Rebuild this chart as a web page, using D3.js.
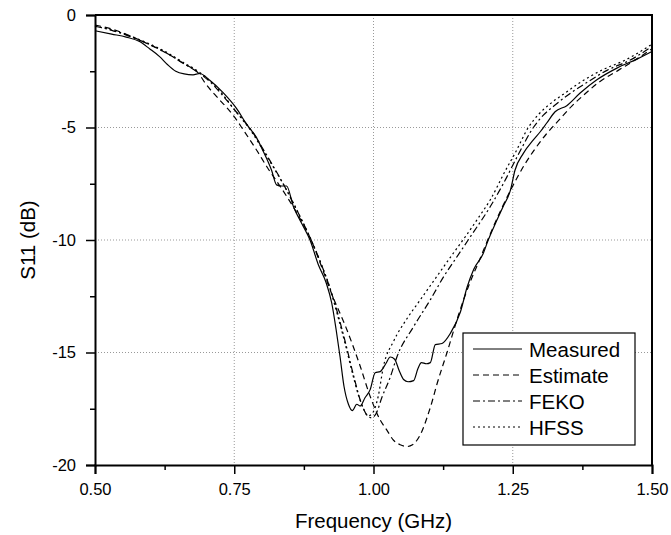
<!DOCTYPE html>
<html>
<head>
<meta charset="utf-8">
<script src="https://d3js.org/d3.v7.min.js"></script>
<style>
  body { margin: 0; background: #fff; }
  text { font-family: "Liberation Sans", Arial, sans-serif; fill: #000; }
</style>
</head>
<body>
<div id="chart"></div>
<script>
// data: [frequency GHz, S11 dB]
var measured = [[0.50,-0.70],[0.53,-0.85],[0.556,-0.98],[0.58,-1.18],[0.598,-1.5],[0.616,-1.85],[0.63,-2.2],[0.645,-2.5],[0.66,-2.62],[0.676,-2.66],[0.688,-2.6],[0.706,-2.9],[0.73,-3.45],[0.754,-4.15],[0.772,-4.85],[0.79,-5.45],[0.80,-5.95],[0.817,-6.9],[0.826,-7.55],[0.835,-7.6],[0.844,-7.6],[0.856,-8.5],[0.874,-9.4],[0.886,-10.0],[0.901,-11.1],[0.915,-11.9],[0.925,-12.8],[0.933,-14.0],[0.94,-15.2],[0.947,-16.5],[0.955,-17.3],[0.962,-17.58],[0.97,-17.3],[0.976,-17.38],[0.985,-17.0],[0.994,-16.65],[1.003,-15.9],[1.012,-15.85],[1.022,-15.5],[1.03,-15.2],[1.038,-15.3],[1.046,-15.8],[1.054,-16.2],[1.062,-16.3],[1.072,-16.25],[1.08,-15.7],[1.086,-15.45],[1.095,-15.5],[1.102,-15.45],[1.111,-14.65],[1.123,-14.6],[1.138,-14.15],[1.156,-13.2],[1.168,-12.1],[1.18,-11.3],[1.197,-10.6],[1.206,-10.0],[1.22,-9.2],[1.233,-8.5],[1.246,-7.77],[1.254,-6.9],[1.269,-6.15],[1.287,-5.55],[1.299,-5.2],[1.311,-4.8],[1.326,-4.3],[1.347,-4.03],[1.371,-3.47],[1.401,-2.88],[1.437,-2.36],[1.473,-1.96],[1.50,-1.62]];

var estimate = [[0.50,-0.45],[0.53,-0.62],[0.562,-0.92],[0.592,-1.25],[0.628,-1.69],[0.658,-2.14],[0.688,-2.66],[0.697,-3.0],[0.718,-3.62],[0.736,-4.1],[0.751,-4.55],[0.766,-5.1],[0.79,-6.0],[0.81,-6.8],[0.832,-7.6],[0.86,-8.7],[0.888,-10.0],[0.91,-11.4],[0.925,-12.4],[0.95,-13.85],[0.976,-15.6],[0.994,-16.95],[1.012,-18.0],[1.024,-18.45],[1.036,-18.9],[1.048,-19.1],[1.06,-19.18],[1.07,-19.1],[1.078,-18.9],[1.087,-18.5],[1.096,-17.9],[1.105,-17.2],[1.114,-16.4],[1.132,-15.0],[1.153,-13.3],[1.173,-11.9],[1.191,-10.85],[1.205,-10.0],[1.23,-8.6],[1.25,-7.6],[1.27,-6.7],[1.29,-5.95],[1.31,-5.3],[1.33,-4.75],[1.356,-4.05],[1.38,-3.5],[1.404,-3.0],[1.44,-2.45],[1.473,-1.95],[1.50,-1.5]];

var feko = [[0.50,-0.5],[0.53,-0.68],[0.562,-0.95],[0.592,-1.25],[0.628,-1.69],[0.658,-2.14],[0.688,-2.6],[0.71,-3.05],[0.73,-3.6],[0.75,-4.2],[0.78,-5.1],[0.81,-6.3],[0.84,-7.6],[0.865,-8.8],[0.888,-10.0],[0.905,-11.0],[0.92,-12.0],[0.935,-13.2],[0.95,-14.6],[0.965,-16.1],[0.976,-17.1],[0.986,-17.7],[0.996,-17.9],[1.005,-17.7],[1.015,-17.0],[1.03,-16.1],[1.042,-15.2],[1.072,-13.85],[1.102,-12.66],[1.126,-11.63],[1.15,-10.74],[1.174,-9.85],[1.21,-8.5],[1.233,-7.5],[1.26,-6.2],[1.287,-5.0],[1.305,-4.45],[1.326,-4.0],[1.355,-3.45],[1.383,-3.0],[1.42,-2.45],[1.461,-2.0],[1.50,-1.4]];

var hfss = [[0.50,-0.5],[0.53,-0.66],[0.562,-0.92],[0.592,-1.22],[0.628,-1.65],[0.658,-2.1],[0.688,-2.55],[0.71,-3.0],[0.73,-3.55],[0.75,-4.2],[0.78,-5.15],[0.81,-6.35],[0.84,-7.6],[0.865,-8.8],[0.888,-10.0],[0.905,-11.0],[0.92,-12.0],[0.935,-13.3],[0.95,-14.7],[0.962,-15.9],[0.973,-16.9],[0.982,-17.5],[0.99,-17.82],[0.998,-17.7],[1.008,-17.0],[1.018,-15.6],[1.036,-14.5],[1.06,-13.5],[1.084,-12.66],[1.11,-11.75],[1.14,-10.7],[1.165,-9.85],[1.19,-8.95],[1.21,-8.2],[1.235,-7.0],[1.255,-6.1],[1.278,-5.0],[1.297,-4.4],[1.317,-3.95],[1.345,-3.45],[1.371,-3.0],[1.41,-2.45],[1.452,-2.0],[1.50,-1.3]];

var seriesNames = ["Measured", "Estimate", "FEKO", "HFSS"];
var seriesDash = ["none", "6,4", "7,3,2,3", "2,3"];
var seriesData = [measured, estimate, feko, hfss];

var xTicks = [0.50, 0.75, 1.00, 1.25, 1.50];
var yTicks = [0, -5, -10, -15, -20];

// set the dimensions and margins of the graph
var margin = { top: 15, right: 19, bottom: 70, left: 95 },
    width = 671 - margin.left - margin.right,
    height = 535 - margin.top - margin.bottom;

var svg = d3.select("#chart")
    .append("svg")
    .attr("width", 671)
    .attr("height", 535)
    .append("g")
    .attr("transform", "translate(" + margin.left + "," + margin.top + ")");

var x = d3.scaleLinear().domain([0.5, 1.5]).range([0, width]);
var y = d3.scaleLinear().domain([-20, 0]).range([height, 0]);

// grid lines at the major ticks
svg.append("g")
    .selectAll("line")
    .data(xTicks.slice(1, -1))
    .enter().append("line")
    .attr("x1", function (d) { return x(d); })
    .attr("x2", function (d) { return x(d); })
    .attr("y1", 0)
    .attr("y2", height)
    .attr("stroke", "#999")
    .attr("stroke-dasharray", "1,2");

svg.append("g")
    .selectAll("line")
    .data(yTicks.slice(1, -1))
    .enter().append("line")
    .attr("x1", 0)
    .attr("x2", width)
    .attr("y1", function (d) { return y(d); })
    .attr("y2", function (d) { return y(d); })
    .attr("stroke", "#999")
    .attr("stroke-dasharray", "1,2");

// axes (minor ticks first, then major with labels)
svg.append("g")
    .attr("transform", "translate(0," + height + ")")
    .call(d3.axisBottom(x).tickValues(d3.range(0.625, 1.5, 0.25)).tickSize(5).tickFormat(""))
    .call(function (g) { g.select(".domain").remove(); })
    .selectAll("line").attr("stroke-width", 1.5);

var xAxis = svg.append("g")
    .attr("transform", "translate(0," + height + ")")
    .call(d3.axisBottom(x).tickValues(xTicks).tickSize(9).tickPadding(9).tickFormat(d3.format(".2f")));

svg.append("g")
    .call(d3.axisLeft(y).tickValues(d3.range(-17.5, 0, 5)).tickSize(5).tickFormat(""))
    .call(function (g) { g.select(".domain").remove(); })
    .selectAll("line").attr("stroke-width", 1.5);

var yAxis = svg.append("g")
    .call(d3.axisLeft(y).tickValues(yTicks).tickSize(9).tickPadding(10)
        .tickFormat(function (d) { return String(d); }));

[xAxis, yAxis].forEach(function (a) {
    a.select(".domain").attr("stroke-width", 2);
    a.selectAll(".tick line").attr("stroke-width", 1.5);
    a.selectAll("text")
        .attr("font-size", "16.5px")
        .attr("font-family", "Liberation Sans, Arial, sans-serif");
});

// top and right border
svg.append("path")
    .attr("d", "M0,0H" + width + "V" + height)
    .attr("fill", "none")
    .attr("stroke", "#000")
    .attr("stroke-width", 2);

// curves
var line = d3.line()
    .x(function (d) { return x(d[0]); })
    .y(function (d) { return y(d[1]); })
    .curve(d3.curveMonotoneX);

svg.selectAll(".curve")
    .data(seriesData)
    .enter().append("path")
    .attr("class", "curve")
    .attr("d", line)
    .attr("fill", "none")
    .attr("stroke", "#000")
    .attr("stroke-width", 1.2)
    .attr("stroke-dasharray", function (d, i) { return seriesDash[i]; });

// axis titles
svg.append("text")
    .attr("x", width / 2)
    .attr("y", height + 63)
    .attr("text-anchor", "middle")
    .attr("font-size", "20.5px")
    .text("Frequency (GHz)");

svg.append("text")
    .attr("transform", "translate(" + (-60) + "," + (height / 2) + ") rotate(-90)")
    .attr("text-anchor", "middle")
    .attr("font-size", "20.5px")
    .text("S11 (dB)");

// legend
var legend = svg.append("g")
    .attr("transform", "translate(" + (463 - margin.left) + "," + (333 - margin.top) + ")");

legend.append("rect")
    .attr("width", 172)
    .attr("height", 112)
    .attr("fill", "#fff")
    .attr("stroke", "#000")
    .attr("stroke-width", 1.2);

var rows = legend.selectAll(".row")
    .data(seriesNames)
    .enter().append("g")
    .attr("transform", function (d, i) { return "translate(0," + (16 + i * 26) + ")"; });

rows.append("line")
    .attr("x1", 10)
    .attr("x2", 59)
    .attr("stroke", "#000")
    .attr("stroke-width", 1)
    .attr("stroke-dasharray", function (d, i) { return seriesDash[i]; });

rows.append("text")
    .attr("x", 66)
    .attr("y", 7.5)
    .attr("font-size", "20.5px")
    .text(function (d) { return d; });
</script>
</body>
</html>
